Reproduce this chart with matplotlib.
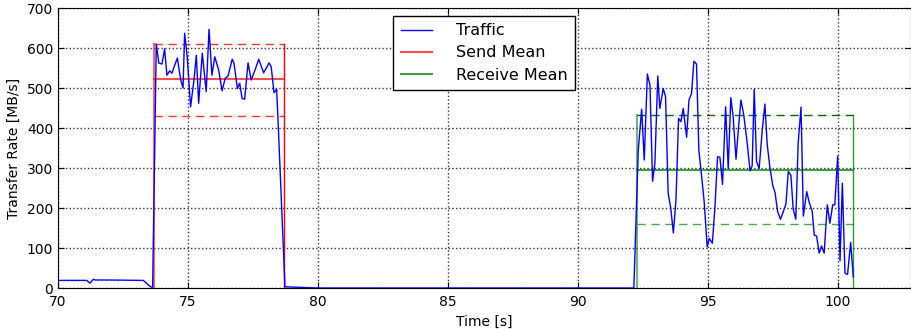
import matplotlib
matplotlib.use('Agg')
import matplotlib.pyplot as plt

# traffic trace, time [s] and rate [MB/s]
time = [70.0, 71.1, 71.23, 71.36, 71.42, 72.0, 73.28, 73.56, 73.64,
        73.78, 73.88, 74.0, 74.1, 74.19, 74.3, 74.38, 74.59, 74.72, 74.81,
        74.87, 74.97, 75.1, 75.23, 75.32, 75.41, 75.55, 75.7, 75.81, 75.92,
        76.03, 76.18, 76.31, 76.43, 76.54, 76.7, 76.77, 76.9, 76.99, 77.08,
        77.18, 77.31, 77.43, 77.59, 77.72, 77.91, 78.12, 78.2, 78.31, 78.41,
        78.46, 78.73, 80.0, 85.0, 90.0, 92.15,
        92.32, 92.45, 92.55, 92.67, 92.77, 92.87, 92.96, 93.07, 93.15, 93.28,
        93.37, 93.47, 93.57, 93.67, 93.77, 93.87, 93.96, 94.05, 94.18, 94.27,
        94.37, 94.46, 94.56, 94.65, 94.76, 94.86, 94.97, 95.05, 95.17, 95.27,
        95.37, 95.46, 95.56, 95.68, 95.78, 95.88, 95.97, 96.08, 96.19, 96.27,
        96.38, 96.51, 96.62, 96.7, 96.78, 96.87, 96.97, 97.09, 97.19, 97.28,
        97.38, 97.49, 97.58, 97.68, 97.79, 97.9, 98.0, 98.09, 98.19, 98.28,
        98.38, 98.47, 98.58, 98.67, 98.8, 98.9, 99.01, 99.09, 99.18, 99.28,
        99.37, 99.47, 99.59, 99.69, 99.8, 99.88, 99.99, 100.08, 100.17, 100.27,
        100.37, 100.49, 100.59]
traffic = [19, 19, 12, 22, 20, 20, 19, 3, 2,
           610, 562, 560, 598, 532, 543, 537, 575, 520, 500,
           637, 578, 453, 520, 582, 462, 587, 491, 647, 532,
           578, 545, 493, 524, 530, 572, 562, 499, 512, 474,
           472, 563, 520, 547, 572, 538, 563, 553, 488, 497,
           425, 3, 0, 0, 0, 0,
           345, 447, 320, 535, 507, 267, 312, 530, 449, 499,
           478, 237, 199, 138, 220, 424, 416, 449, 377, 470,
           487, 567, 560, 345, 278, 212, 103, 124, 112, 203,
           328, 327, 259, 453, 299, 476, 428, 322, 412, 470,
           432, 362, 293, 305, 497, 316, 299, 395, 460, 359,
           303, 257, 239, 191, 172, 191, 210, 291, 282, 197,
           172, 362, 452, 180, 241, 213, 192, 132, 130, 87,
           105, 87, 208, 162, 208, 208, 330, 68, 262, 37,
           34, 114, 28]

# send window statistics
send_start, send_end = 73.69, 78.70
send_mean, send_hi, send_lo = 522, 610, 430

# receive window statistics
recv_start, recv_end = 92.26, 100.59
recv_mean, recv_hi, recv_lo = 295, 433, 160

fig = plt.figure(figsize=(9.12, 3.29), dpi=100)
ax = fig.add_axes([0.0636, 0.1246, 0.935, 0.851])

ax.plot(time, traffic, color='b', lw=1.0, label='Traffic', zorder=3)

# send mean with its bounds
ax.plot([send_start, send_end], [send_mean, send_mean], color='r', alpha=0.7,
        lw=1.5, label='Send Mean')
ax.plot([send_start, send_end], [send_hi, send_hi], color='r', alpha=0.8,
        lw=1.0, ls='--', dashes=(6, 4))
ax.plot([send_start, send_end], [send_lo, send_lo], color='r', alpha=0.8,
        lw=1.0, ls='--', dashes=(6, 4))
ax.plot([send_start, send_start], [0, send_hi], color='r', alpha=0.6, lw=1.5)
ax.plot([send_end, send_end], [0, send_hi], color='r', lw=1.0)

# receive mean with its bounds
ax.plot([recv_start, recv_end], [recv_mean, recv_mean], color='g', alpha=0.75,
        lw=1.5, label='Receive Mean')
ax.plot([recv_start, recv_end], [recv_hi, recv_hi], color='darkgreen',
        lw=1.0, ls='--', dashes=(6, 4))
ax.plot([recv_start, recv_end], [recv_lo, recv_lo], color='g', alpha=0.7,
        lw=1.0, ls='--', dashes=(6, 4))
ax.plot([recv_start, recv_start], [0, recv_hi], color='g', alpha=0.55, lw=1.5)
ax.plot([recv_end, recv_end], [0, recv_hi], color='g', alpha=0.8, lw=1.0)

ax.set_xlim(70, 102.8)
ax.set_ylim(0, 700)
ax.set_xticks([70, 75, 80, 85, 90, 95, 100])
ax.set_yticks(range(0, 701, 100))
ax.tick_params(direction='in', top=True, right=True, labelsize=10, length=4)
ax.tick_params(axis='x', pad=5)
ax.grid(True, color='k', ls=':', lw=1.0, alpha=0.8)
ax.set_xlabel('Time [s]', fontsize=10)
ax.set_ylabel('Transfer Rate [MB/s]', fontsize=10)

leg = ax.legend(loc='upper center', fontsize=11.5, fancybox=False, framealpha=1,
                handlelength=2.0, borderpad=0.45, labelspacing=0.45,
                handletextpad=1.5, borderaxespad=0.5, edgecolor='k')
leg.get_frame().set_linewidth(1.0)

fig.savefig('out.png', dpi=100)
